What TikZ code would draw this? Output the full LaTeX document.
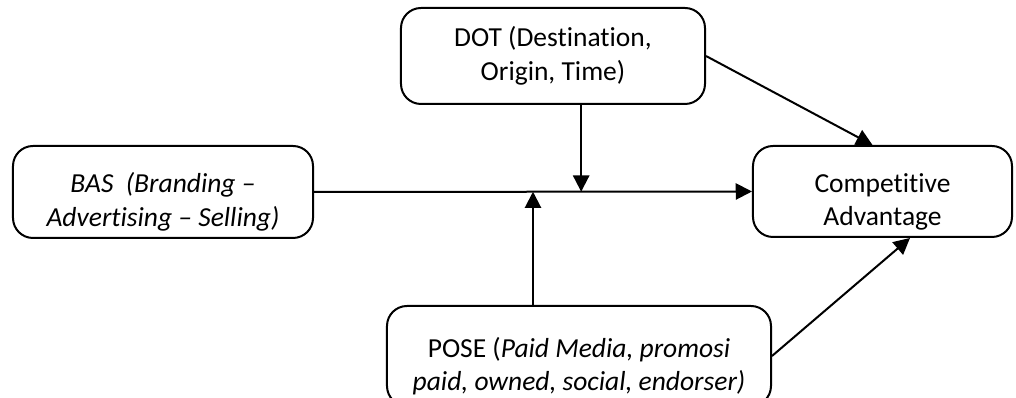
\documentclass[tikz,border=0pt]{standalone}
\usepackage{fontspec}
\setmainfont[Ligatures={NoCommon}]{Carlito}
\usepackage{tikz}
\usetikzlibrary{arrows.meta,calc,positioning}
\newcommand{\padtop}{\rule{0pt}{16pt}}
\tikzset{
    box/.style = {draw, rounded corners=8pt, line width=0.8pt, align=center,
                  inner ysep=1pt, font=\fontsize{11pt}{13.4pt}\selectfont},
    link/.style = {line width=0.8pt, -{Triangle[length=6.5pt,width=6.5pt]}}
}
\begin{document}
\begin{tikzpicture}[x=0.4pt, y=-0.4pt]

    \useasboundingbox (0,0) rectangle (1016,398);

    % Nodes
    \node[box, minimum width=120pt, minimum height=36.8pt] (BAS) at (163,192)
        {\padtop\itshape BAS\ \ (Branding --\\\itshape Advertising -- Selling)};
    \node[box, minimum width=121.6pt, minimum height=38.4pt] (DOT) at (553,56)
        {DOT (Destination,\\Origin, Time)};
    \node[box, minimum width=103.6pt, minimum height=36.4pt] (CA) at (882.5,191.5)
        {\padtop Competitive\\Advantage};
    \node[box, minimum width=153.6pt, minimum height=40pt] (POSE) at (579,356)
        {\padtop POSE (\textit{Paid Media, promosi}\\\textit{paid, owned, social, endorser)}};

    % Points on the main line
    \coordinate (J1) at ($(BAS.east)!0.5!(CA.west)$);
    \coordinate (J2) at ($(BAS.east)!0.61!(CA.west)$);

    % Edges with arrows
    \draw[link] (BAS.east) -- (CA.west);
    \draw[link] (DOT.south -| J2) -- (J2);
    \draw[link] (POSE.north -| J1) -- (J1);
    \draw[link] (DOT.east) -- ([xshift=-4pt]CA.north);
    \draw[link] (POSE.east) -- ([xshift=11pt]CA.south);

\end{tikzpicture}
\end{document}
